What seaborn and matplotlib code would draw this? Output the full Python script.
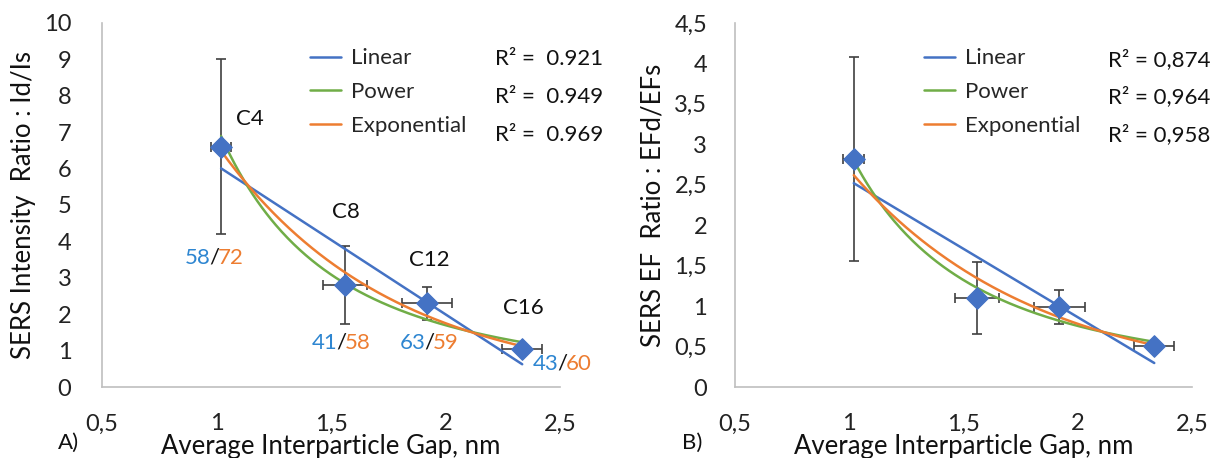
import numpy as np
import pandas as pd
import seaborn as sns
import matplotlib
matplotlib.use("Agg")
import matplotlib.pyplot as plt
from matplotlib.lines import Line2D

sns.set_style("white")
plt.rcParams['font.family'] = ['Lato', 'DejaVu Sans']

# ---- data ----
gap = [1.02, 1.56, 1.92, 2.335]
gap_err = [0.045, 0.097, 0.11, 0.087]
names = ["C4", "C8", "C12", "C16"]

ratio_A = [6.6, 2.8, 2.3, 1.05]
ratio_A_err = [2.4, 1.08, 0.45, 0.0]
r2_A = ["0.921", "0.949", "0.969"]
pct_blue = ["58", "41", "63", "43"]
pct_orange = ["72", "58", "59", "60"]

ratio_B = [2.82, 1.1, 0.99, 0.51]
ratio_B_err = [1.26, 0.445, 0.215, 0.04]
r2_B = ["0,874", "0,964", "0,958"]

fit_names = ["Linear", "Power", "Exponential"]
fit_colors = ["#4472C4", "#70AD47", "#ED7D31"]

yticks_A = [0, 1, 2, 3, 4, 5, 6, 7, 8, 9, 10]
yticks_B = [0, 0.5, 1, 1.5, 2, 2.5, 3, 3.5, 4, 4.5]
xticks = [0.5, 1, 1.5, 2, 2.5]


def fmt(v):
    return ("%g" % v).replace(".", ",")


GRAY = "#BFBFBF"
LBLUE = "#2E86D1"
ORANGE = "#ED7D31"
MBLUE = "#4472C4"
TXT = "#111111"
FS = 16

fig = plt.figure(figsize=(12.1, 4.58), dpi=100)
axA = fig.add_axes([0.0843, 0.155, 0.3785, 0.795])
axB = fig.add_axes([0.6074, 0.155, 0.3777, 0.795])


def fits(x, y):
    x = np.asarray(x); y = np.asarray(y)
    xs = np.linspace(x.min(), x.max(), 200)
    a, b = np.polyfit(x, y, 1)
    lin = a * xs + b
    pa, pb = np.polyfit(np.log(x), np.log(y), 1)
    pw = np.exp(pb) * xs ** pa
    ea, eb = np.polyfit(x, np.log(y), 1)
    ex = np.exp(eb) * np.exp(ea * xs)
    return xs, [lin, pw, ex]


def draw(ax, y, yerr, yticks, ylim, r2, rx, lx, ypad):
    ax.errorbar(gap, y, xerr=gap_err, yerr=yerr, fmt="none", ecolor="#404040",
                elinewidth=1.2, capsize=3.6, capthick=1.2, zorder=2)
    xs, curves = fits(gap, y)
    for c, col in zip(curves, fit_colors):
        sns.lineplot(x=xs, y=c, ax=ax, color=col, lw=1.8, zorder=3)
    df = pd.DataFrame({"gap": gap, "ratio": y})
    sns.scatterplot(data=df, x="gap", y="ratio", ax=ax, marker="D", s=120,
                    color=MBLUE, edgecolor=MBLUE, zorder=4)
    ax.set_xlim(0.5, 2.5)
    ax.set_ylim(*ylim)
    ax.set_xticks(xticks)
    ax.set_xticklabels([fmt(v) for v in xticks])
    ax.set_yticks(yticks)
    ax.set_yticklabels([fmt(v) for v in yticks])
    for s in ["top", "right"]:
        ax.spines[s].set_visible(False)
    for s in ["left", "bottom"]:
        ax.spines[s].set_color(GRAY)
        ax.spines[s].set_linewidth(1.2)
    ax.tick_params(axis="both", which="major", length=5, width=1.2, color=GRAY,
                   labelsize=17, labelcolor="#222222", direction="out")
    ax.tick_params(axis="x", pad=14)
    ax.tick_params(axis="y", pad=ypad)
    ax.set_xlabel("Average Interparticle Gap, nm", fontsize=18.5, color=TXT, labelpad=0)
    handles = [Line2D([0], [0], color=c, lw=1.8) for c in fit_colors]
    ax.legend(handles, fit_names, loc="upper left", bbox_to_anchor=(lx, 0.93),
              frameon=False, fontsize=FS, handlelength=1.4, handletextpad=0.45,
              labelspacing=0.62, borderaxespad=0, borderpad=0)
    ys = [0.90, 0.797, 0.693]
    for t, yy in zip(r2, ys):
        ax.text(rx, yy, t, transform=ax.transAxes, fontsize=FS, va="center",
                ha="left", color=TXT)


draw(axA, ratio_A, ratio_A_err, yticks_A, (0, 10),
     ["R\u00b2 =  " + v for v in r2_A], 0.859, 0.454, 17)
draw(axB, ratio_B, ratio_B_err, yticks_B, (0, 4.5),
     ["R\u00b2 = " + v for v in r2_B], 0.817, 0.413, 15)

axA.set_ylabel("SERS Intensity  Ratio : Id/Is", fontsize=18.5, color=TXT, labelpad=6)
axB.set_ylabel("SERS EF  Ratio : EFd/EFs", fontsize=18.5, color=TXT, labelpad=6)

# compound labels
lab_pos = [(1.144, 7.35), (1.567, 4.8), (1.929, 3.5), (2.338, 2.17)]
for nm, (px, py) in zip(names, lab_pos):
    axA.text(px, py, nm, fontsize=FS, ha="center", va="center", color=TXT)

# efficiency labels: blue / orange
pct_pos = [(0.99, 3.55), (1.545, 1.22), (1.93, 1.22), (2.51, 0.64)]
for b, o, (px, py) in zip(pct_blue, pct_orange, pct_pos):
    axA.annotate("/", (px, py), ha="center", va="center", fontsize=FS, color=TXT,
                 annotation_clip=False)
    axA.annotate(b, (px, py), xytext=(-2.6, 0), textcoords="offset points",
                 ha="right", va="center", fontsize=FS, color=LBLUE,
                 annotation_clip=False)
    axA.annotate(o, (px, py), xytext=(2.6, 0), textcoords="offset points",
                 ha="left", va="center", fontsize=FS, color=ORANGE,
                 annotation_clip=False)

fig.text(0.048, 0.033, "A)", fontsize=FS, color=TXT, va="center")
fig.text(0.564, 0.033, "B)", fontsize=FS, color=TXT, va="center")

fig.savefig("out.png", dpi=100)
